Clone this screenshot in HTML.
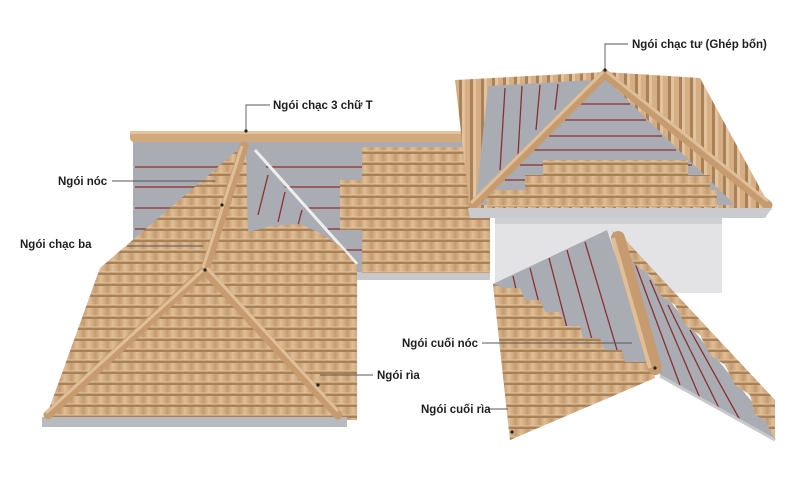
<!DOCTYPE html>
<html><head><meta charset="utf-8"><style>
html,body{margin:0;padding:0;background:#fff;width:800px;height:479px;overflow:hidden}
svg{display:block}
text{font-family:"Liberation Sans",sans-serif;font-weight:bold;font-size:11.5px;fill:#1e1e1e}
</style></head><body>
<svg width="800" height="479" viewBox="0 0 800 479" xmlns="http://www.w3.org/2000/svg">
<defs>
<linearGradient id="g1" x1="0" y1="0" x2="1" y2="0">
<stop offset="0" stop-color="#c89e72"/><stop offset="0.4" stop-color="#e0bd95"/><stop offset="1" stop-color="#c39a6e"/>
</linearGradient>
<pattern id="t" width="12" height="11" patternUnits="userSpaceOnUse">
<rect width="12" height="11" fill="url(#g1)"/>
<rect x="0" y="8" width="12" height="3" fill="#a98158"/>
<rect x="0" y="7.5" width="12" height="1" fill="#e6c7a2"/>
</pattern>
<linearGradient id="g2" x1="0" y1="0" x2="0" y2="1">
<stop offset="0" stop-color="#c89e72"/><stop offset="0.4" stop-color="#e0bd95"/><stop offset="1" stop-color="#c39a6e"/>
</linearGradient>
<pattern id="tv" width="11" height="12" patternUnits="userSpaceOnUse">
<rect width="11" height="12" fill="#d6ae83"/>
<rect x="0" y="0" width="3" height="12" fill="#e3c39e"/>
<rect x="8" y="0" width="3" height="12" fill="#a98158"/>
</pattern>
</defs>

<!-- left back gray roof -->
<rect x="133" y="140" width="357" height="136" fill="#a9adb3"/>
<rect x="133" y="272" width="357" height="8" fill="#c6c8cc"/>
<g stroke="#8a2f2f" stroke-width="1.3">
<line x1="135" y1="167" x2="460" y2="167"/><line x1="135" y1="187" x2="460" y2="187"/>
<line x1="135" y1="208" x2="460" y2="208"/><line x1="135" y1="229" x2="460" y2="229"/>
<line x1="135" y1="250" x2="460" y2="250"/>
</g>
<rect x="130" y="131" width="334" height="11" rx="4" fill="#d2a97d"/>
<rect x="130" y="131" width="334" height="3" fill="#e3c39e"/>
<!-- middle tile patch -->
<rect x="362" y="147" width="128" height="126" fill="url(#t)"/>
<rect x="340" y="180" width="25" height="50" fill="url(#t)"/>

<!-- left hip roof -->
<polygon points="250,150 357,264 357,420 340,420 205,270" fill="#a9adb3"/>
<g stroke="#8a2f2f" stroke-width="1.3">
<line x1="268" y1="175" x2="258" y2="215"/><line x1="285" y1="192" x2="278" y2="222"/><line x1="302" y1="210" x2="298" y2="225"/>
</g>
<line x1="255" y1="150" x2="357" y2="264" stroke="#eeeeee" stroke-width="3"/>
<polygon points="240,148 205,270 45,420 100,268" fill="url(#t)"/>
<polygon points="246,152 248,232 272,226 300,224 322,234 340,246 357,266 357,420 340,420 205,270" fill="url(#t)"/>
<polygon points="205,270 50,418 340,418" fill="url(#t)"/>
<rect x="42" y="417" width="305" height="10" fill="#b7babe"/>
<g stroke="#c59b6f" stroke-width="9" stroke-linecap="round">
<line x1="244" y1="146" x2="205" y2="270"/>
<line x1="205" y1="270" x2="48" y2="415"/>
<line x1="205" y1="270" x2="338" y2="415"/>
</g>
<g stroke="#e0bf98" stroke-width="3">
<line x1="242" y1="146" x2="203" y2="268"/>
<line x1="203" y1="270" x2="46" y2="413"/>
<line x1="207" y1="268" x2="338" y2="411"/>
</g>

<!-- right upper roof -->
<polygon points="455,80 605,72 700,78 772,210 470,210" fill="url(#tv)"/>
<polygon points="488,86 592,80 476,200" fill="#a9adb3"/>
<g stroke="#8a2f2f" stroke-width="1.3">
<line x1="505" y1="88" x2="500" y2="170"/><line x1="522" y1="86" x2="518" y2="155"/>
<line x1="540" y1="85" x2="536" y2="130"/><line x1="558" y1="84" x2="555" y2="110"/>
</g>
<polygon points="605,78 480,205 735,205" fill="#a9adb3"/>
<g stroke="#8a2f2f" stroke-width="1.3">
<line x1="580" y1="104" x2="630" y2="104"/><line x1="565" y1="120" x2="646" y2="120"/>
<line x1="549" y1="136" x2="662" y2="136"/><line x1="534" y1="150" x2="676" y2="150"/>
<line x1="520" y1="165" x2="692" y2="165"/><line x1="505" y1="180" x2="708" y2="180"/>
</g>
<rect x="543" y="160" width="145" height="15" fill="url(#t)"/>
<rect x="525" y="175" width="185" height="15" fill="url(#t)"/>
<rect x="487" y="190" width="230" height="17" fill="url(#t)"/>
<g stroke="#c59b6f" stroke-width="9" stroke-linecap="round">
<line x1="605" y1="74" x2="473" y2="205"/><line x1="605" y1="74" x2="768" y2="205"/>
</g>
<g stroke="#e0bf98" stroke-width="3">
<line x1="603" y1="72" x2="471" y2="203"/><line x1="607" y1="72" x2="768" y2="201"/>
</g>
<polygon points="468,208 772,208 765,218 470,218" fill="#c9cbce"/>
<!-- wall -->
<rect x="495" y="218" width="227" height="75" fill="#e3e3e5"/>
<rect x="495" y="218" width="227" height="6" fill="#cfd0d3"/>

<!-- lower roof -->
<polygon points="607,230 493,284 510,440 655,375" fill="#a9adb3"/>
<g stroke="#8a2f2f" stroke-width="1.3">
<line x1="585" y1="242" x2="620" y2="360"/><line x1="567" y1="250" x2="600" y2="368"/>
<line x1="549" y1="258" x2="580" y2="378"/><line x1="530" y1="268" x2="560" y2="385"/>
<line x1="513" y1="276" x2="540" y2="395"/>
</g>
<polygon points="493,284 510,440 655,378 650,362 625,362 622,350 605,350 600,338 583,338 580,326 565,326 560,312 545,312 540,300 525,300 520,288 505,288" fill="url(#t)"/>
<polygon points="612,230 660,375 775,440 775,430" fill="#a9adb3"/>
<g stroke="#8a2f2f" stroke-width="1.3">
<line x1="632" y1="255" x2="680" y2="385"/><line x1="650" y1="280" x2="700" y2="398"/>
<line x1="668" y1="305" x2="720" y2="410"/><line x1="690" y1="330" x2="740" y2="420"/>
</g>
<polygon points="618,232 775,400 775,440 765,420 755,415 750,395 735,385 725,365 710,355 700,335 685,325 675,305 660,295 650,275 635,265" fill="url(#t)"/>
<line x1="618" y1="238" x2="655" y2="368" stroke="#c59b6f" stroke-width="14" stroke-linecap="round"/>
<line x1="613" y1="238" x2="650" y2="368" stroke="#e0bf98" stroke-width="4"/>
<line x1="660" y1="376" x2="775" y2="440" stroke="#c6c8cc" stroke-width="3"/>

<!-- leaders -->
<g stroke="#555" stroke-width="0.9" fill="none">
<polyline points="270,105 246,105 246,131"/>
<polyline points="628,44 605,44 605,70"/>
<line x1="112" y1="181" x2="215" y2="181"/>
<line x1="127" y1="246" x2="203" y2="246"/>
<line x1="320" y1="375" x2="373" y2="375"/>
<line x1="482" y1="343" x2="632" y2="343"/>
<line x1="488" y1="409" x2="508" y2="409"/>
</g>
<g fill="#222">
<circle cx="246" cy="131" r="1.6"/><circle cx="605" cy="70" r="1.6"/>
<circle cx="222" cy="205" r="1.6"/><circle cx="205" cy="270" r="1.6"/>
<circle cx="318" cy="385" r="1.6"/><circle cx="655" cy="368" r="1.6"/>
<circle cx="512" cy="432" r="1.6"/>
</g>
<text x="273" y="109">Ngói chạc 3 chữ T</text>
<text x="632" y="48">Ngói chạc tư (Ghép bốn)</text>
<text x="58" y="185">Ngói nóc</text>
<text x="20" y="248">Ngói chạc ba</text>
<text x="377" y="379">Ngói rìa</text>
<text x="402" y="347">Ngói cuối nóc</text>
<text x="421" y="413">Ngói cuối rìa</text>
</svg>
</body></html>
